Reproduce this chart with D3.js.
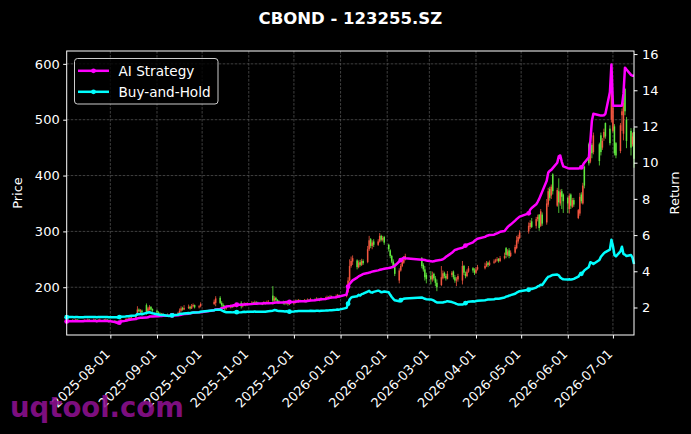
<!DOCTYPE html>
<html>
<head>
<meta charset="utf-8">
<script src="https://cdn.jsdelivr.net/npm/d3@7"></script>
<style>
  html, body { margin: 0; padding: 0; background: #000; }
  svg { display: block; font-family: "DejaVu Sans", sans-serif; }
</style>
</head>
<body>
<div id="chart"></div>
<script>
// trading calendar
const firstDay = "2025-07-03";
const lastDay = "2026-07-15";
const holidays = ["2025-10-01","2025-10-02","2025-10-03","2025-10-06","2025-10-07","2025-10-08",
  "2026-01-01","2026-01-02","2026-02-16","2026-02-17","2026-02-18","2026-02-19","2026-02-20",
  "2026-02-23","2026-04-03","2026-04-06","2026-05-01","2026-05-04","2026-05-05","2026-06-19"];
const xTickDates = ["2025-08-01","2025-09-01","2025-10-01","2025-11-01","2025-12-01","2026-01-01",
  "2026-02-01","2026-03-01","2026-04-01","2026-05-01","2026-06-01","2026-07-01"];
const priceTicks = [200, 300, 400, 500, 600];
const returnTicks = [2, 4, 6, 8, 10, 12, 14, 16];

// daily OHLC, one line per week
const opens = [
  139,140,
  141,141,140,142,141, 140,140,141,141,142, 141,142,141,140,141, 142,141,142,141,140,
  140,139,138,137,139, 141,142,143,144,145, 145,150,160,156,158, 168,156,160,165,161,
  158,155,153,150,152, 151,150,149,151,150, 152,154,158,163,160, 163,165,162,166,168,
  164,166, 170,172,
  181,172,168,166,162, 164,166,165,167,168, 172,166,169,170,168, 171,173,170,173,172,
  171,170,172,171,173, 185,176,181,177,175, 174,173,171,173,170, 171,173,176,174,176,
  175,177,175,177,176, 178,177,179,178,177, 179,180,182,181,183, 182,184,186,
  184,192,212,238,246, 248,236,245,240,247, 245,268,286,274,282, 276,282,292,285,290,
  276,266,256,246,236, 212,230,238,244,250,
  252,240,232,222, 220,214,224,216,208, 204,216,226,220,215, 222,228,218,212,214,
  212,238,224,220,228, 234,230,226,232, 234,238,244,240, 244,246,248,251,247,
  252,270,258,266,256, 262,270,282,288, 300,308,318, 310,322,330,310,330,
  316,348,376,364,402, 346,372,350,372,366, 360,340,366,344,356, 324,332,366,350,416,
  456,425,455,442, 456,472,450,468,494, 484,500,480,488,458, 444,508,475,555,500,
  480,456,478
];
const highs = [
  142,143,
  143,142,144,143,142, 142,143,142,144,143, 144,143,142,143,144, 143,144,143,142,142,
  141,140,139,140,143, 144,145,146,147,148, 150,166,162,161,160, 171,165,168,166,162,
  160,157,155,154,154, 153,152,153,152,154, 156,162,166,165,168, 169,167,170,171,169,
  168,173, 178,184,
  184,175,171,168,166, 169,168,170,171,170, 175,171,173,172,173, 175,174,176,175,174,
  173,175,174,176,177, 202,184,183,179,177, 176,175,175,174,173, 176,178,178,179,178,
  179,178,180,179,181, 180,182,181,180,182, 183,185,184,186,185, 187,188,187,
  193,218,250,255,257, 250,248,249,251,250, 274,292,288,284,286, 286,297,294,292,292,
  278,268,258,250,243, 234,242,250,256,260,
  254,243,238,226, 229,228,226,220,214, 238,230,228,224,229, 229,230,222,218,224,
  247,240,228,232,238, 236,234,236,240, 244,247,246,248, 250,251,254,252,256,
  262,272,268,270,266, 276,292,294,302, 316,320,324, 326,330,331,340,334,
  358,378,380,384,404, 378,395,375,376,368, 362,368,368,360,360, 340,369,370,387,418,
  459,463,458,477, 459,477,467,484,495, 490,598,530,492,460, 494,520,535,557,505,
  485,477,485
];
const lows = [
  137,139,
  139,138,139,140,138, 138,139,139,140,139, 139,139,137,139,140, 139,140,139,137,138,
  137,136,135,136,138, 140,141,142,143,144, 144,149,155,154,153, 151,154,158,158,156,
  153,151,148,149,149, 148,147,148,148,149, 150,153,156,158,159, 161,160,161,164,162,
  162,164, 168,166,
  170,165,162,157,160, 162,163,164,165,164, 162,164,167,166,167, 169,168,169,170,168,
  168,169,169,170,171, 169,174,175,171,170, 169,168,169,167,168, 169,171,172,172,173,
  173,172,174,174,175, 175,176,176,175,176, 177,179,179,180,180, 180,182,181,
  182,190,210,235,240, 232,234,237,238,240, 243,265,270,268,272, 274,280,282,282,276,
  264,252,243,234,220, 207,228,236,242,248,
  234,228,212,207, 205,210,212,202,193, 202,214,216,212,214, 218,214,208,202,210,
  205,222,216,218,226, 226,222,224,230, 232,236,236,238, 242,244,246,244,245,
  250,252,255,252,254, 260,268,278,286, 296,304,306, 305,318,301,308,310,
  312,344,355,358,366, 344,333,346,340,333, 333,332,340,342,344, 322,328,350,348,377,
  418,422,431,438, 418,436,446,462,466, 454,495,477,436,431, 440,480,463,508,449,
  436,452,414
];
const closes = [
  140,141,
  141,140,142,141,140, 140,141,141,142,141, 142,141,140,141,142, 141,142,141,140,140,
  139,138,137,139,141, 142,143,144,145,146, 148,160,157,159,155, 156,162,165,160,158,
  155,153,150,152,151, 150,149,151,150,152, 154,158,162,160,163, 165,162,166,168,164,
  166,170, 174,180,
  172,168,165,162,164, 166,165,167,168,166, 166,169,170,168,171, 172,170,173,172,171,
  170,172,171,173,174, 176,180,177,174,173, 172,171,173,170,171, 173,175,174,176,175,
  176,175,177,176,178, 177,179,178,177,179, 180,182,181,183,182, 184,186,183,
  190,212,238,247,252, 236,244,240,247,243, 268,284,274,280,276, 282,292,285,288,280,
  268,256,246,238,224, 230,238,246,250,256,
  238,232,218,215, 214,222,216,208,200, 218,225,220,216,224, 226,218,212,214,220,
  238,226,220,228,234, 230,226,232,236, 238,242,240,244, 246,248,250,247,252,
  256,258,264,256,262, 272,284,290,298, 310,315,308, 322,326,306,336,314,
  350,372,360,380,372, 374,352,370,362,354, 350,364,346,356,348, 338,362,354,382,382,
  422,455,440,472, 426,442,462,478,470, 458,585,522,440,436, 490,515,530,515,462,
  450,470,430
];

// cumulative returns (right axis)
const aiReturn = [
  1.23,1.24,
  1.24,1.24,1.25,1.24,1.24, 1.24,1.25,1.25,1.26,1.25, 1.26,1.25,1.24,1.25,1.26, 1.25,1.26,1.25,1.24,1.24,
  1.20,1.17,1.14,1.16,1.22, 1.26,1.28,1.30,1.32,1.34, 1.36,1.40,1.42,1.43,1.43, 1.44,1.46,1.50,1.50,1.50,
  1.52,1.52,1.53,1.53,1.54, 1.54,1.55,1.55,1.56,1.56, 1.57,1.58,1.60,1.62,1.64, 1.66,1.68,1.70,1.71,1.72,
  1.73,1.74, 1.85,1.89,
  1.92,1.96,1.98,2.02,2.05, 2.08,2.10,2.12,2.14,2.15, 2.15,2.16,2.17,2.18,2.18, 2.19,2.20,2.21,2.21,2.22,
  2.22,2.23,2.23,2.24,2.24, 2.25,2.26,2.27,2.27,2.27, 2.28,2.29,2.30,2.30,2.31, 2.31,2.32,2.33,2.34,2.34,
  2.35,2.35,2.36,2.37,2.38, 2.40,2.42,2.43,2.44,2.45, 2.47,2.49,2.51,2.53,2.55, 2.57,2.59,2.61,
  2.71,3.15,3.30,3.40,3.50, 3.65,3.72,3.76,3.80,3.85, 3.90,3.93,3.95,3.98,4.00, 4.05,4.08,4.10,4.12,4.14,
  4.18,4.20,4.22,4.26,4.30, 4.54,4.62,4.70,4.75,4.72,
  4.64,4.64,4.62,4.60, 4.56,4.54,4.55,4.58,4.60, 4.64,4.66,4.72,4.80,4.85, 5.02,5.10,5.18,5.20,5.24,
  5.30,5.36,5.42,5.46,5.50, 5.60,5.68,5.74,5.80, 5.90,5.95,5.98,6.00, 6.02,6.06,6.10,6.14,6.18,
  6.22,6.34,6.44,6.52,6.58, 6.80,6.88,6.95,7.02, 7.20,7.40,7.50, 7.70,7.84,8.00,8.20,8.40,
  9.00,9.45,9.55,9.60,9.70, 10.00,10.35,10.40,10.05,9.80, 9.70,9.68,9.68,9.68,9.68, 9.68,9.70,9.74,9.86,10.00,
  10.30,11.20,12.30,12.70, 12.62,12.60,12.60,12.62,12.70, 13.90,15.42,13.15,13.15,13.15, 13.15,13.15,13.80,15.25,15.15,
  14.85,14.80,14.80
];
const bhReturn = [
  1.46,1.47,
  1.47,1.46,1.48,1.47,1.46, 1.46,1.47,1.47,1.48,1.47, 1.48,1.47,1.46,1.47,1.48, 1.47,1.48,1.47,1.46,1.46,
  1.46,1.46,1.45,1.47,1.49, 1.50,1.51,1.52,1.53,1.54, 1.56,1.64,1.62,1.65,1.63, 1.70,1.72,1.74,1.71,1.68,
  1.63,1.61,1.58,1.59,1.58, 1.54,1.53,1.55,1.56,1.58, 1.60,1.63,1.66,1.65,1.67, 1.69,1.68,1.71,1.73,1.72,
  1.74,1.76, 1.85,1.88,
  1.88,1.84,1.80,1.76,1.74, 1.74,1.73,1.74,1.75,1.74, 1.73,1.75,1.76,1.75,1.76, 1.77,1.76,1.78,1.77,1.76,
  1.76,1.77,1.77,1.78,1.79, 1.82,1.86,1.85,1.82,1.80, 1.79,1.78,1.79,1.77,1.77, 1.78,1.79,1.79,1.80,1.80,
  1.80,1.80,1.81,1.81,1.82, 1.81,1.82,1.82,1.81,1.82, 1.83,1.84,1.84,1.85,1.85, 1.87,1.89,1.88,
  1.98,2.21,2.44,2.54,2.58, 2.62,2.70,2.66,2.74,2.76, 2.88,2.92,2.84,2.82,2.86, 2.93,2.90,2.84,2.86,2.88,
  2.84,2.70,2.58,2.48,2.40, 2.35,2.40,2.45,2.48,2.50,
  2.55,2.52,2.48,2.46, 2.44,2.42,2.38,2.32,2.28, 2.27,2.28,2.30,2.32,2.35, 2.30,2.27,2.24,2.20,2.17,
  2.16,2.20,2.24,2.28,2.32, 2.34,2.33,2.35,2.37, 2.40,2.42,2.44,2.44, 2.46,2.48,2.49,2.48,2.50,
  2.55,2.60,2.62,2.66,2.68, 2.76,2.82,2.86,2.90, 2.98,3.04,3.02, 3.10,3.16,3.20,3.26,3.24,
  3.60,3.70,3.72,3.76,3.80, 3.82,3.78,3.66,3.60,3.56, 3.54,3.56,3.54,3.56,3.58, 3.70,3.82,3.86,3.94,4.05,
  4.24,4.50,4.46,4.40, 4.62,4.80,4.90,5.00,5.06, 5.20,5.74,5.40,4.90,4.82, 5.10,5.36,4.95,4.92,4.84,
  4.90,4.75,4.40
];

const W = 691, H = 434;
const plotLeft = 66.7, plotRight = 634, plotTop = 51, plotBottom = 335;
const markEvery = 25;

const parse = d3.timeParse("%Y-%m-%d");
const fmt = d3.timeFormat("%Y-%m-%d");

const days = d3.timeDay.range(parse(firstDay), d3.timeDay.offset(parse(lastDay), 1))
  .filter(d => d.getDay() !== 0 && d.getDay() !== 6 && !holidays.includes(fmt(d)));

const n = Math.min(days.length, closes.length, opens.length, highs.length, lows.length,
  aiReturn.length, bhReturn.length);
if (n !== days.length) console.log("length mismatch", days.length, closes.length);

const rows = d3.range(n).map(i => ({
  date: days[i], o: opens[i], h: highs[i], l: lows[i], c: closes[i],
  ai: aiReturn[i], bh: bhReturn[i], i: i
}));

const xScale = d3.scaleTime().domain([days[0], days[n - 1]]).range([plotLeft, plotRight]);
const yPrice = d3.scaleLinear().domain([114.5, 623]).range([plotBottom, plotTop]);
const yRet = d3.scaleLinear().domain([0.48, 16.17]).range([plotBottom, plotTop]);

const svg = d3.select("#chart").append("svg")
  .attr("width", W).attr("height", H);

svg.append("rect").attr("width", W).attr("height", H).attr("fill", "#000");

svg.append("text")
  .attr("x", (plotLeft + plotRight) / 2).attr("y", 23.5)
  .attr("text-anchor", "middle")
  .attr("fill", "#fff").attr("font-size", 16.5).attr("font-weight", "bold")
  .text("CBOND - 123255.SZ");

// grid
const grid = svg.append("g");
xTickDates.forEach(t => {
  grid.append("line")
    .attr("x1", xScale(parse(t))).attr("x2", xScale(parse(t)))
    .attr("y1", plotTop).attr("y2", plotBottom);
});
priceTicks.forEach(t => {
  grid.append("line")
    .attr("x1", plotLeft).attr("x2", plotRight)
    .attr("y1", yPrice(t)).attr("y2", yPrice(t));
});
grid.selectAll("line")
  .attr("stroke", "#5a5a5a").attr("stroke-width", 0.7).attr("stroke-dasharray", "2.6,1.4");

// candles
const upColor = "#f2553f", downColor = "#5fe83e";
const candles = svg.append("g").selectAll("g")
  .data(rows).enter().append("g");
candles.append("line")
  .attr("x1", d => xScale(d.date)).attr("x2", d => xScale(d.date))
  .attr("y1", d => yPrice(d.h)).attr("y2", d => yPrice(d.l))
  .attr("stroke", d => d.c >= d.o ? upColor : downColor)
  .attr("stroke-width", 0.8);
candles.append("rect")
  .attr("x", d => xScale(d.date) - 0.75).attr("width", 1.5)
  .attr("y", d => yPrice(Math.max(d.o, d.c)))
  .attr("height", d => Math.max(1, Math.abs(yPrice(d.o) - yPrice(d.c))))
  .attr("fill", d => d.c >= d.o ? upColor : downColor);

// return lines
const series = [
  { key: "ai", name: "AI Strategy", color: "#ff00ff" },
  { key: "bh", name: "Buy-and-Hold", color: "#00ffff" }
];
series.forEach(s => {
  const line = d3.line().x(d => xScale(d.date)).y(d => yRet(d[s.key]));
  svg.append("path").datum(rows)
    .attr("d", line)
    .attr("fill", "none").attr("stroke", s.color)
    .attr("stroke-width", 2.5).attr("stroke-linejoin", "round");
  svg.append("g").selectAll("circle")
    .data(rows.filter(d => d.i % markEvery === 0))
    .enter().append("circle")
    .attr("cx", d => xScale(d.date)).attr("cy", d => yRet(d[s.key]))
    .attr("r", 2.4).attr("fill", s.color);
});

// spines
svg.append("rect")
  .attr("x", plotLeft).attr("y", plotTop)
  .attr("width", plotRight - plotLeft).attr("height", plotBottom - plotTop)
  .attr("fill", "none").attr("stroke", "#fff").attr("stroke-width", 1);

// axes
const styleAxis = g => {
  g.select(".domain").remove();
  g.selectAll(".tick line").attr("stroke", "#fff");
  g.selectAll(".tick text").attr("fill", "#fff").attr("font-size", 13)
    .attr("font-family", "DejaVu Sans, sans-serif");
};

svg.append("g")
  .attr("transform", `translate(${plotLeft},0)`)
  .call(d3.axisLeft(yPrice).tickValues(priceTicks).tickSize(3.5).tickPadding(3.5))
  .call(styleAxis);

svg.append("g")
  .attr("transform", `translate(${plotRight},0)`)
  .call(d3.axisRight(yRet).tickValues(returnTicks).tickSize(3.5).tickPadding(4.5))
  .call(styleAxis);

const xAxisG = svg.append("g")
  .attr("transform", `translate(0,${plotBottom})`)
  .call(d3.axisBottom(xScale).tickValues(xTickDates.map(parse)).tickFormat(fmt).tickSize(3.5))
  .call(styleAxis);
xAxisG.selectAll(".tick text")
  .attr("text-anchor", "end")
  .attr("dy", null).attr("y", null)
  .attr("transform", "translate(0,20) rotate(-45)");

svg.append("text")
  .attr("transform", `translate(22,${(plotTop + plotBottom) / 2}) rotate(-90)`)
  .attr("text-anchor", "middle").attr("fill", "#fff").attr("font-size", 13)
  .text("Price");

svg.append("text")
  .attr("transform", `translate(679,${(plotTop + plotBottom) / 2}) rotate(-90)`)
  .attr("text-anchor", "middle").attr("fill", "#fff").attr("font-size", 13)
  .text("Return");

// legend
const legend = svg.append("g").attr("transform", "translate(74.5,58.5)");
legend.append("rect")
  .attr("width", 143.5).attr("height", 45.5).attr("rx", 3)
  .attr("fill", "#000").attr("fill-opacity", 0.8)
  .attr("stroke", "#cccccc").attr("stroke-width", 1);
series.forEach((s, i) => {
  const yy = 12.3 + i * 21;
  legend.append("line")
    .attr("x1", 3.5).attr("x2", 34.5).attr("y1", yy).attr("y2", yy)
    .attr("stroke", s.color).attr("stroke-width", 2.5);
  legend.append("circle").attr("cx", 19).attr("cy", yy).attr("r", 2.4).attr("fill", s.color);
  legend.append("text")
    .attr("x", 44).attr("y", yy + 5)
    .attr("fill", "#fff").attr("font-size", 13.6)
    .text(s.name);
});

// watermark
svg.append("text")
  .attr("x", 10).attr("y", 417)
  .attr("fill", "#8e1090").attr("fill-opacity", 0.9)
  .attr("font-size", 27.5).attr("font-weight", "bold")
  .text("uqtool.com");
</script>
</body>
</html>
